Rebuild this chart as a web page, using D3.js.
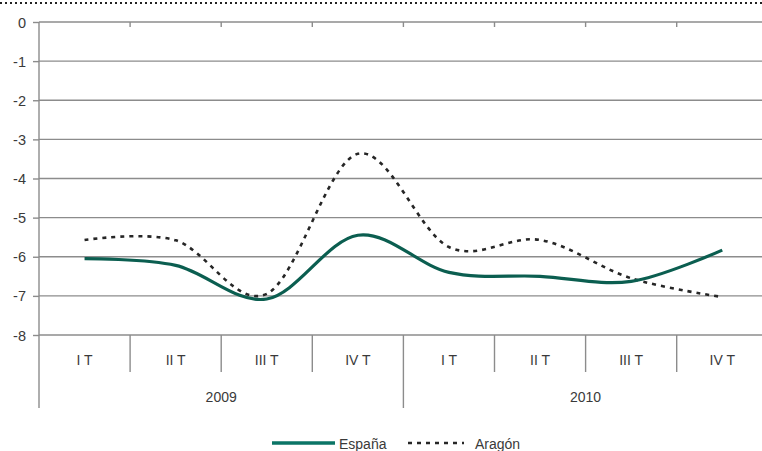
<!DOCTYPE html>
<html lang="es">
<head>
<meta charset="utf-8">
<title>España / Aragón</title>
<script src="https://d3js.org/d3.v7.min.js"></script>
<style>
body { margin: 0; background: #fff; }
svg text { font-family: "Liberation Sans", Arial, sans-serif; fill: #3a3a3a; }
</style>
</head>
<body>
<div id="chart"></div>
<script>
// data
var quarters = ["I T", "II T", "III T", "IV T", "I T", "II T", "III T", "IV T"];
var years = ["2009", "2010"];
var espana = [-6.05, -6.22, -7.08, -5.45, -6.4, -6.5, -6.63, -5.83];
var aragon = [-5.57, -5.58, -6.95, -3.37, -5.75, -5.57, -6.55, -7.03];
var yTicks = [0, -1, -2, -3, -4, -5, -6, -7, -8];

var width = 762, height = 451;
var plotLeft = 39, plotTop = 22, plotBottom = 335, bandW = 91.1;

var svg = d3.select("#chart").append("svg")
    .attr("width", width)
    .attr("height", height);

// dotted frame line along the top
svg.append("line")
    .attr("x1", 0).attr("x2", width)
    .attr("y1", 3).attr("y2", 3)
    .attr("stroke", "#222").attr("stroke-width", 2)
    .attr("stroke-dasharray", "2,3");

var x = d3.scaleBand()
    .domain(d3.range(quarters.length))
    .range([plotLeft, plotLeft + bandW * quarters.length]);

var y = d3.scaleLinear().domain([-8, 0]).range([plotBottom, plotTop]);

// gridlines
svg.append("g").selectAll("line")
    .data(yTicks)
    .join("line")
    .attr("x1", plotLeft).attr("x2", width)
    .attr("y1", d => y(d)).attr("y2", d => y(d))
    .attr("stroke", "#8c8c8c").attr("stroke-width", 1.4);

// y axis (plain hyphen for the minus sign, like the original)
var yAxis = d3.axisLeft(y).tickValues(yTicks).tickSize(6).tickFormat(d => String(d));
var gy = svg.append("g").attr("transform", "translate(" + plotLeft + ",0)").call(yAxis);
gy.select(".domain").remove();
gy.selectAll(".tick line").attr("stroke", "#8c8c8c").attr("stroke-width", 1.4);
gy.selectAll(".tick text").attr("x", -13).attr("dy", "0.35em")
    .style("font-size", "14.5px").attr("fill", "#3a3a3a")
    .attr("font-family", "Liberation Sans, Arial, sans-serif");

// vertical axis line, runs down through the category labels
svg.append("line")
    .attr("x1", plotLeft).attr("x2", plotLeft)
    .attr("y1", plotTop).attr("y2", 408)
    .attr("stroke", "#8c8c8c").attr("stroke-width", 1.4);

// small ticks at top (category axis crosses at 0)
var bounds = d3.range(1, quarters.length).map(i => x(i));
svg.append("g").selectAll("line")
    .data(bounds)
    .join("line")
    .attr("x1", d => d).attr("x2", d => d)
    .attr("y1", plotTop).attr("y2", plotTop + 5)
    .attr("stroke", "#8c8c8c").attr("stroke-width", 1.4);

// separators under the plot
svg.append("g").selectAll("line")
    .data(bounds)
    .join("line")
    .attr("x1", d => d).attr("x2", d => d)
    .attr("y1", plotBottom).attr("y2", (d, i) => i == 3 ? 408 : 372)
    .attr("stroke", "#8c8c8c").attr("stroke-width", 1.4);

// quarter labels
svg.append("g").selectAll("text")
    .data(quarters)
    .join("text")
    .attr("x", (d, i) => x(i) + bandW / 2)
    .attr("y", 365)
    .attr("text-anchor", "middle")
    .style("font-size", "14px")
    .text(d => d);

// year labels
svg.append("g").selectAll("text")
    .data(years)
    .join("text")
    .attr("x", (d, i) => x(i * 4) + bandW * 2)
    .attr("y", 402)
    .attr("text-anchor", "middle")
    .style("font-size", "14px")
    .text(d => d);

// series
var line = d3.line()
    .x((d, i) => x(i) + bandW / 2)
    .y(d => y(d))
    .curve(d3.curveCatmullRom.alpha(0));

svg.append("path")
    .datum(aragon)
    .attr("d", line)
    .attr("fill", "none")
    .attr("stroke", "#262626")
    .attr("stroke-width", 2.6)
    .attr("stroke-dasharray", "4,5");

svg.append("path")
    .datum(espana)
    .attr("d", line)
    .attr("fill", "none")
    .attr("stroke", "#0b5e50")
    .attr("stroke-width", 3.2);

// legend
var lg = svg.append("g");
lg.append("line")
    .attr("x1", 272).attr("x2", 335).attr("y1", 443).attr("y2", 443)
    .attr("stroke", "#0b7566").attr("stroke-width", 3.4);
lg.append("text").attr("x", 339).attr("y", 449).style("font-size", "14px").text("España");
lg.append("line")
    .attr("x1", 408).attr("x2", 464).attr("y1", 443).attr("y2", 443)
    .attr("stroke", "#262626").attr("stroke-width", 2.6)
    .attr("stroke-dasharray", "4,5");
lg.append("text").attr("x", 475).attr("y", 449).style("font-size", "14px").text("Aragón");
</script>
</body>
</html>
